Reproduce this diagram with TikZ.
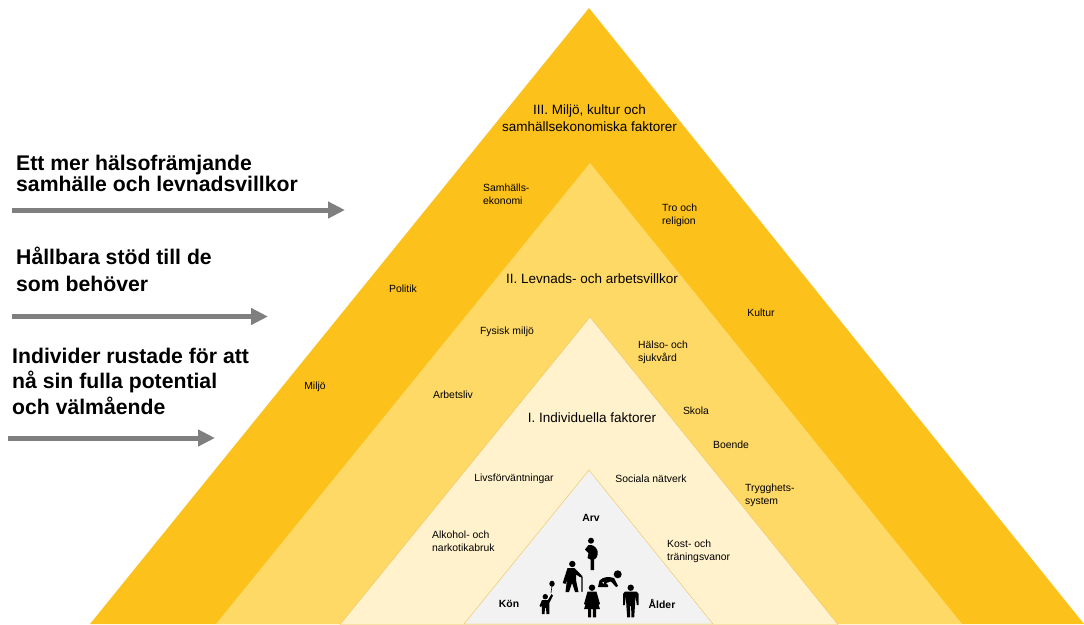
\documentclass[tikz,border=0pt]{standalone}
\usepackage{fontspec}
\setmainfont{Liberation Sans}
\usetikzlibrary{arrows.meta}
\definecolor{outercol}{HTML}{FDC11C}
\definecolor{secondcol}{HTML}{FFD966}
\definecolor{thirdcol}{HTML}{FFF2CC}
\definecolor{innercol}{HTML}{F2F2F2}
\definecolor{edgecol}{HTML}{EFC25A}
\definecolor{arrowcol}{HTML}{7F7F7F}
\tikzset{
    small/.style={font=\fontsize{10.4}{13}\selectfont, inner sep=0pt, text=black, yshift=-.8pt},
    smallleft/.style={small, anchor=west, align=left},
    level/.style={font=\fontsize{13.5}{17}\selectfont, inner sep=0pt, align=center},
    headline/.style={font=\bfseries\fontsize{21.2}{25.5}\selectfont, inner sep=0pt, anchor=north west, align=left},
    goal/.style={draw=arrowcol, line width=5pt, -{Triangle[length=17pt,width=16pt]}},
    person/.style={fill=black, draw=none}
}
\begin{document}
\begin{tikzpicture}[x=1pt,y=-1pt]
    \useasboundingbox (0,0) rectangle (1084,624);
    % Pyramid
    \fill[outercol] (90,624) -- (589,8) -- (1084,624) -- cycle;
    \fill[secondcol] (216,624) -- (590,163) -- (962,624) -- cycle;
    \draw[edgecol, fill=thirdcol] (340,624.5) -- (590,317) -- (838,624.5) -- cycle;
    \draw[edgecol, fill=innercol] (464,624) -- (589,470) -- (713,624) -- cycle;

    % Levels
    \node[level] (level3) at (589.5,118.5) {III. Miljö, kultur och\\samhällsekonomiska faktorer};
    \node[level] (level2) at (592,279) {II. Levnads- och arbetsvillkor};
    \node[level] (level1) at (592,418) {I. Individuella faktorer};

    % Centred labels
    \foreach \name/\x/\y/\val in {
        politik/403/288/Politik,
        kultur/761/312/Kultur,
        miljo/315/386/Miljö,
        fysisk/507/331/Fysisk miljö,
        arbetsliv/453/394/Arbetsliv,
        skola/696/410/Skola,
        boende/731/444/Boende,
        livs/514/478/Livsförväntningar,
        sociala/651/478/Sociala nätverk
        } {
        \node[small] (\name) at (\x,\y) {\val};
    }

    % Two-line labels
    \foreach \name/\x/\y/\valone/\valtwo in {
        samhall/483/193.5/Samhälls-/ekonomi,
        tro/662/214.5/Tro och/religion,
        halso/638/351.5/Hälso- och/sjukvård,
        trygg/745/494.5/Trygghets-/system,
        alkohol/432/540.5/Alkohol- och/narkotikabruk,
        kost/667/550.5/Kost- och/träningsvanor
        } {
        \node[smallleft] (\name) at (\x,\y) {\valone\\\valtwo};
    }

    % Inner triangle
    \foreach \name/\x/\y/\val in {arv/591/517/Arv, kon/509/603/Kön, alder/662/603/Ålder} {
        \node[small, font=\bfseries\fontsize{10.4}{13}\selectfont] (\name) at (\x,\y) {\val};
    }

    % Pregnant woman
    \fill[person] (591,540.7) circle (3);
    \fill[person] (588.5,545) .. controls (592,544.5) and (596,546) .. (597.5,551) .. controls (598.5,556) and (596,559) .. (594,559.5) -- (594,570) -- (590.5,570) -- (590.5,559.5) -- (587.5,558) -- (588.5,553) -- (585,549.5) -- cycle;
    % Old man with stick
    \fill[person] (572.3,564) circle (3.2);
    \fill[person] (567.5,568) -- (574.5,568) -- (581.5,575) -- (579.8,577) -- (576,574.5) -- (576,580) -- (578.5,592) -- (575,592) -- (572,583) -- (569,592) -- (565.5,592) -- (567,579) -- (565.5,584) -- (562.7,583) -- cycle;
    \draw[line width=1.3pt, line cap=round] (580.5,576.5) .. controls (581.5,575.5) and (582,576) .. (582,578) -- (582,591.5);
    % Crawling baby
    \fill[person] (617.7,574.3) circle (4);
    \fill[person, even odd rule] (598,587) -- (599.5,580.5) .. controls (603,576.5) and (609,576.5) .. (614,578) -- (618,586) -- (616,587) -- (611,581.5) -- (606,583) -- (608,585) -- (608,587) -- cycle
        (602,582.5) -- (604.5,581.5) -- (603.5,584) -- cycle;
    % Child with balloon
    \fill[person] (552,583.7) ellipse (2.7 and 3);
    \draw[line width=.6pt] (552,586) -- (551,593);
    \fill[person] (545.3,596.7) circle (2.7);
    \fill[person] (542,600) -- (548,600) -- (551.5,594) -- (553,595.5) -- (549.3,603) -- (549.3,614) -- (546.5,614) -- (546,608) -- (545,608) -- (544.5,614) -- (541.8,614) -- (541.8,605) -- (541,607) -- (539.5,606) -- cycle;
    % Woman
    \fill[person] (592,587.7) circle (3.2);
    \fill[person] (587.5,591.7) -- (596.5,591.7) -- (600,604) -- (598,605) -- (596.2,598) -- (600,609) -- (596,609) -- (596,617.3) -- (592.8,617.3) -- (592.8,609) -- (591.2,609) -- (591.2,617.3) -- (588,617.3) -- (588,609) -- (584,609) -- (587.8,598) -- (586,605) -- (584,604) -- cycle;
    % Man
    \fill[person] (630.7,587.7) circle (3.2);
    \fill[person] (625,591.5) -- (636.5,591.5) -- (638.7,594) -- (638.7,605) -- (636.8,605) -- (635.5,596) -- (635,605) -- (634.2,617.3) -- (631.3,617.3) -- (631.2,606) -- (630.2,606) -- (630,617.3) -- (627.2,617.3) -- (626.3,605) -- (626,596) -- (624.8,605) -- (623,605) -- (623,594) -- cycle;

    % Headlines
    \node[headline] (goalthree) at (16,155) {Ett mer hälsofrämjande};
    \node[headline] (goalthreeb) at (16,176) {samhälle och levnadsvillkor};
    \node[headline] (goaltwo) at (16,247) {Hållbara stöd till de\\[1.5pt]som behöver};
    \node[headline] (goalone) at (12,347.5) {Individer rustade för att\\nå sin fulla potential\\och välmående};

    % Arrows
    \foreach \name/\xa/\xb/\y in {three/12/345/210, two/12/268/316.5, one/8/215/438} {
        \coordinate (\name a) at (\xa,\y);
        \coordinate (\name b) at (\xb,\y);
        \draw[goal] (\name a) -- (\name b);
    }
\end{tikzpicture}
\end{document}
